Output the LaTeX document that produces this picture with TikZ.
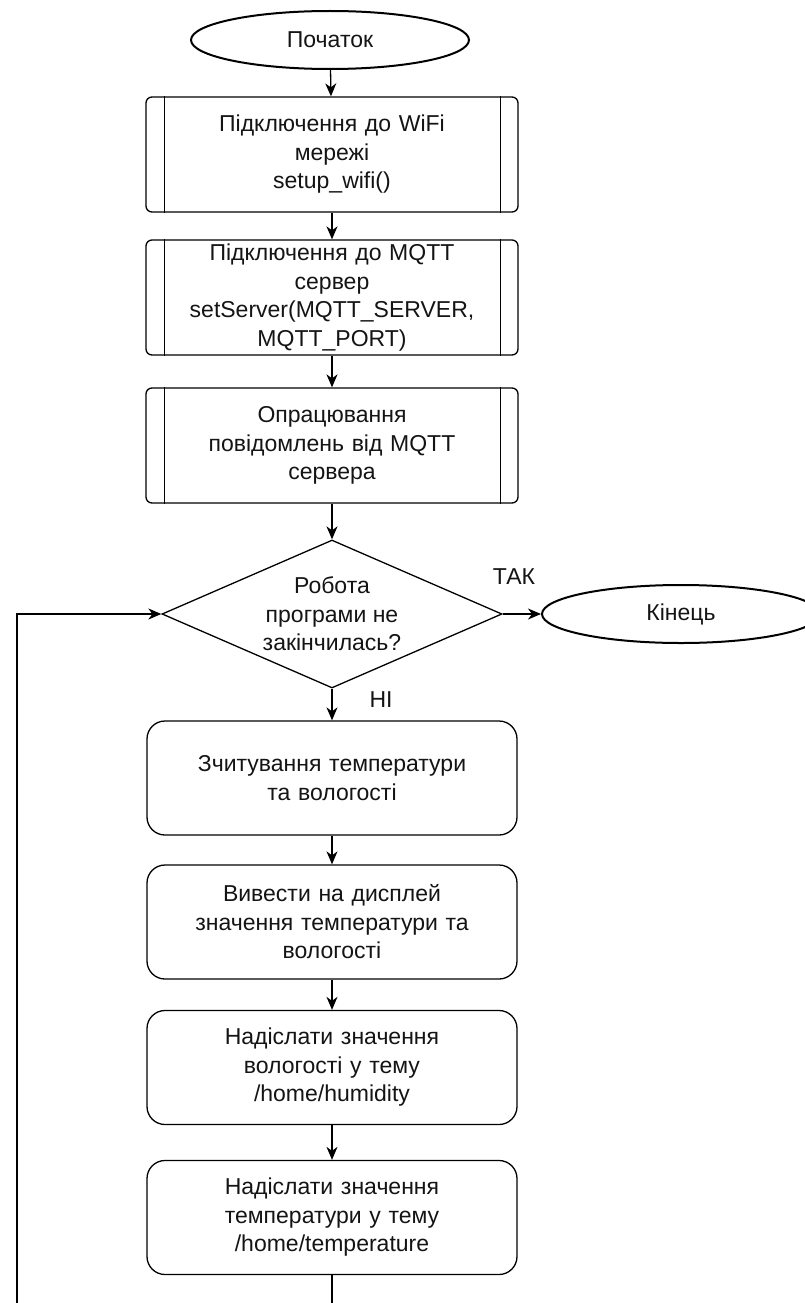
\documentclass[tikz,border=0pt]{standalone}
\usepackage{fontspec}
\setmainfont{Liberation Sans}
\usetikzlibrary{shapes.geometric,arrows.meta}
\tikzset{
  every node/.style={font=\fontsize{23}{28.5}\selectfont, align=center, text=black!92},
  term/.style={ellipse, draw, line width=2pt, minimum width=278pt, minimum height=58pt, inner sep=0pt},
  predef/.style={rectangle, rounded corners=6pt, draw, line width=1.3pt, minimum width=372pt, minimum height=115pt, text width=340pt, inner sep=0pt},
  proc/.style={rectangle, rounded corners=18pt, draw, line width=1.3pt, minimum width=370pt, minimum height=114pt, text width=340pt, inner sep=0pt},
  decis/.style={diamond, draw, line width=1.3pt, minimum width=340pt, minimum height=148pt, inner sep=0pt},
  conn/.style={line width=1.3pt, -{Stealth[length=13pt,width=11pt,inset=4pt]}},
  lbl/.style={font=\fontsize{23}{26}\selectfont}
}
\begin{document}
\begin{tikzpicture}[x=1pt,y=-1pt]
\useasboundingbox (0,0) rectangle (805,1303);
\clip (0,0) rectangle (805,1303);
\node[term] (start) at (330,40) {Початок};
\node[predef] (p1) at (332,154.5) {Підключення до WiFi\\мережі\\setup\_wifi()};
\node[predef] (p2) at (332,297.5) {Підключення до MQTT\\сервер\\setServer(MQTT\_SERVER,\\MQTT\_PORT)};
\node[predef] (p3) at (332,445.5) {Опрацювання\\повідомлень від MQTT\\сервера};
\foreach \n in {p1,p2,p3}{
  \draw[line width=1.3pt] ([xshift=19pt]\n.north west) -- ([xshift=19pt]\n.south west);
  \draw[line width=1.3pt] ([xshift=-18pt]\n.north east) -- ([xshift=-18pt]\n.south east);
}
\node[decis] (d) at (332,614) {};
\node (dtext) at (d) {Робота\\програми не\\закінчилась?};
\node[term] (end) at (681,614) {Кінець};
\node[proc] (s1) at (332,778) {Зчитування температури\\та вологості};
\node[proc] (s2) at (332,922) {Вивести на дисплей\\значення температури та\\вологості};
\node[proc] (s3) at (332,1067.5) {Надіслати значення\\вологості у тему\\/home/humidity};
\node[proc] (s4) at (332,1217.5) {Надіслати значення\\температури у тему\\/home/temperature};
\node[lbl] (yes) at (514,577) {ТАК};
\node[lbl] (no) at (381,700) {НІ};
\coordinate (b1) at (332,1320);
\coordinate (b2) at (17,1320);
\draw[conn] (start) -- (p1);
\draw[conn] (p1) -- (p2);
\draw[conn] (p2) -- (p3);
\draw[conn] (p3) -- (d);
\draw[conn] (d.east) -- (end.west);
\draw[conn] (d.south) -- (s1);
\draw[conn] (s1) -- (s2);
\draw[conn] (s2) -- (s3);
\draw[conn] (s3) -- (s4);
\draw[conn] (s4.south) -- (b1) -- (b2) |- (d.west);
\end{tikzpicture}
\end{document}
